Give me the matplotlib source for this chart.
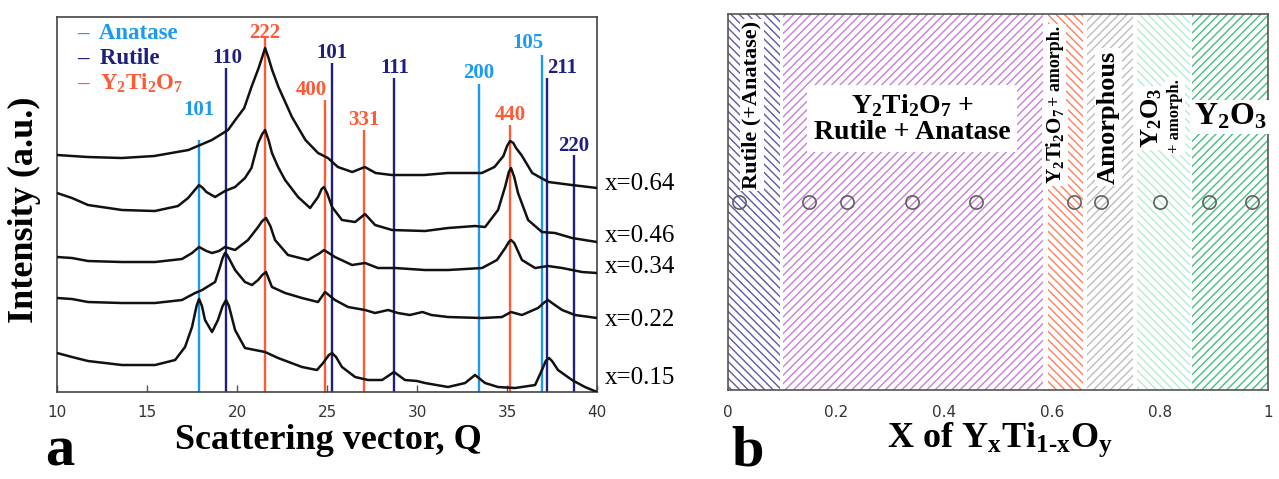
import matplotlib
matplotlib.use('Agg')
import matplotlib.pyplot as plt

plt.rcParams['mathtext.fontset'] = 'custom'
plt.rcParams['mathtext.rm'] = 'Liberation Serif:bold'
plt.rcParams['mathtext.bf'] = 'Liberation Serif:bold'
plt.rcParams['mathtext.it'] = 'Liberation Serif:bold'
plt.rcParams['mathtext.default'] = 'rm'
plt.rcParams['hatch.linewidth'] = 1.0

SERIF = 'Liberation Serif'

# ---------------- Panel a data ----------------
q_064 = [10.0, 11.7, 13.6, 15.4, 17.3, 18.6, 19.5, 19.9, 20.4, 20.8, 21.2, 21.4, 21.56, 21.75, 21.95, 22.3,
         23.05, 23.8, 24.5, 25.05, 25.6, 26.4, 27.1, 27.7, 28.6, 30.4, 31.7, 33.6, 34.3, 34.8,
         35.0, 35.17, 35.35, 35.5, 35.8, 36.4, 37.3, 38.6, 40.0]
i_064 = [237, 235, 234, 236, 242, 252, 262, 272, 284, 305, 324, 335, 344, 334, 322, 305,
         275, 252, 239, 234, 225, 220, 225, 219, 217, 217, 219, 219, 225, 236,
         246, 251, 249, 244, 237, 219, 210, 207, 204]

q_046 = [10.0, 10.83, 11.72, 13.61, 15.44, 16.72, 17.28, 17.7, 17.89, 18.1, 18.3, 18.78, 19.33, 19.89, 20.44,
         20.8, 21.17, 21.4, 21.56, 21.75, 21.94, 22.28, 22.67, 23.39, 24.06, 24.5, 24.7, 24.83, 25.0, 25.28,
         25.83, 26.56, 27.11, 27.67, 28.61, 30.44, 31.72, 33.22, 33.78, 34.5, 34.89, 35.1, 35.22, 35.4,
         35.61, 36.17, 36.94, 37.67, 38.61, 40.0]
i_046 = [199, 194, 187, 182, 181, 186, 194, 203, 207, 204, 200, 195, 201, 205, 214,
         224, 249, 258, 262, 252, 239, 225, 212, 195, 184, 195, 203, 205, 199, 185,
         172, 170, 178, 167, 162, 161, 164, 166, 165, 182, 205, 220, 224, 215,
         199, 172, 160, 159, 154, 150]

q_034 = [10.0, 10.83, 11.72, 13.61, 15.44, 16.94, 17.5, 17.89, 18.3, 18.61, 19.0, 19.33, 19.89,
         20.61, 21.17, 21.4, 21.61, 21.85, 22.11, 22.83, 23.94, 24.61, 24.83, 25.44, 26.39, 27.11, 27.83,
         28.78, 30.44, 31.72, 33.61, 34.44, 34.9, 35.1, 35.22, 35.4, 35.5, 35.83, 36.56, 37.28, 38.06,
         39.17, 40.0]
i_034 = [135, 134, 131, 130, 130, 133, 139, 145, 141, 139, 141, 145, 142,
         152, 165, 171, 174, 166, 152, 137, 132, 139, 142, 135, 127, 129, 124,
         124, 122, 122, 124, 132, 144, 150, 152, 149, 145, 132, 124, 126, 124,
         120, 119]

q_022 = [10.0, 10.83, 11.72, 13.61, 15.44, 16.94, 17.67, 18.06, 18.78, 19.05, 19.2, 19.33, 19.45, 19.6,
         19.89, 20.44, 20.83, 21.17, 21.4, 21.61, 21.94, 22.67, 23.61, 24.5, 24.89, 25.44, 26.17, 27.11,
         27.67, 28.39, 28.94, 29.6, 30.3, 30.8, 31.72, 33.61, 34.72, 35.22, 35.83, 36.72, 37.1, 37.28,
         37.5, 38.06, 38.78, 40.0]
i_022 = [94, 93, 90, 89, 89, 92, 99, 102, 110, 125, 134, 139, 137, 132,
         122, 110, 107, 112, 117, 120, 105, 99, 94, 90, 100, 92, 85, 82,
         79, 82, 79, 77, 80, 77, 75, 74, 75, 80, 77, 84, 90, 92,
         89, 82, 77, 74]

q_015 = [10.0, 10.83, 11.72, 13.61, 15.44, 16.56, 17.11, 17.5, 17.75, 17.89, 18.05, 18.22, 18.61,
         18.94, 19.2, 19.39, 19.55, 19.89, 20.44, 21.0, 21.56, 22.28, 23.61, 24.44, 24.78, 25.1, 25.28,
         25.5, 25.83, 26.56, 27.28, 28.06, 28.72, 29.33, 30.0, 30.44, 31.72, 32.67, 33.22, 33.78, 34.5,
         35.44, 36.56, 36.94, 37.15, 37.33, 37.5, 37.83, 38.61, 39.33, 40.0]
i_015 = [39, 35, 31, 27, 27, 32, 45, 65, 86, 93, 86, 72, 60,
         72, 86, 92, 86, 62, 44, 42, 40, 34, 25, 22, 29, 37, 39,
         35, 25, 15, 12, 12, 20, 12, 11, 9, 5, 9, 17, 9, 5,
         4, 7, 22, 31, 34, 31, 22, 12, 5, 0]

curves_q = [q_064, q_046, q_034, q_022, q_015]
curves_i = [i_064, i_046, i_034, i_022, i_015]
curve_labels = ['x=0.64', 'x=0.46', 'x=0.34', 'x=0.22', 'x=0.15']
curve_label_y = [208, 156, 125, 72, 14]

# reference lines: phase, hkl, position, top, label x, label y
ref_phase = ['A', 'R', 'Y', 'Y', 'R', 'Y', 'R', 'A', 'Y', 'A', 'R', 'R']
ref_hkl = ['101', '110', '222', '400', '101', '331', '111', '200', '440', '105', '211', '220']
ref_pos = [17.9, 19.4, 21.56, 24.9, 25.28, 27.06, 28.72, 33.44, 35.17, 36.94, 37.2, 38.7]
ref_top = [252, 324, 354, 292, 329, 262, 314, 308, 267, 337, 314, 237]
ref_lab_x = [17.9, 19.44, 21.56, 24.14, 25.28, 27.06, 28.78, 33.44, 35.17, 36.14, 38.08, 38.7]
ref_lab_y = [282, 334, 359, 302, 339, 272, 324, 319, 277, 349, 324, 246]

phase_colors = {'A': '#1a9af0', 'R': '#1f1f7e', 'Y': '#ff5a36'}
legend_names = ['–  Anatase', '–  Rutile', r'–  Y$_2$Ti$_2$O$_7$']
legend_keys = ['A', 'R', 'Y']

# ---------------- Panel b data ----------------
region_x0 = [0.0, 0.102, 0.593, 0.665, 0.757, 0.859]
region_x1 = [0.096, 0.583, 0.657, 0.750, 0.856, 1.0]
region_colors = ['#5a5aa8', '#c67fd8', '#ff7f5a', '#bdbdbd', '#b8ecd0', '#45c07f']
region_hatch = ['\\\\\\\\', '////', '\\\\\\\\', '////', '\\\\\\\\', '////']

sample_x = [0.02, 0.15, 0.22, 0.34, 0.46, 0.64, 0.69, 0.80, 0.89, 0.97]
sample_y = [0.5] * len(sample_x)

fig = plt.figure(figsize=(12.79, 4.79), dpi=100)

# ================= Panel a =================
ax = fig.add_axes([0.0446, 0.1816, 0.4222, 0.7829])
ax.set_xlim(10, 40)
ax.set_ylim(0, 375)
ax.set_xticks([10, 15, 20, 25, 30, 35, 40])
ax.set_yticks([])
ax.tick_params(axis='x', direction='in', length=5, width=1, pad=9,
               labelsize=11, labelcolor='#333333', color='#555555')
for s in ax.spines.values():
    s.set_color('#444444')
    s.set_linewidth(1.2)

for ph, pos, top in zip(ref_phase, ref_pos, ref_top):
    ax.vlines(pos, 0, top, colors=phase_colors[ph], lw=1.7, zorder=1)
for ph, hkl, lx, ly in zip(ref_phase, ref_hkl, ref_lab_x, ref_lab_y):
    ax.text(lx, ly, hkl, color=phase_colors[ph], ha='center', va='center',
            fontsize=15, family=SERIF, fontweight='bold')

for qq, ii in zip(curves_q, curves_i):
    ax.plot(qq, ii, color='#111111', lw=1.8, zorder=3, solid_joinstyle='round')

for lab, ly in zip(curve_labels, curve_label_y):
    ax.text(40.45, ly, lab, ha='left', va='center', fontsize=18, family=SERIF,
            clip_on=False)

for k, (name, key) in enumerate(zip(legend_names, legend_keys)):
    ax.text(11.1, 359 - 25 * k, name, color=phase_colors[key], ha='left', va='center',
            fontsize=16.5, family=SERIF, fontweight='bold')

fig.text(0.0195, 0.5616, 'Intensity (a.u.)', rotation=90, ha='center', va='center',
         fontsize=26, family=SERIF, fontweight='bold')
fig.text(0.2565, 0.0814, 'Scattering vector, Q', ha='center', va='center',
         fontsize=26, family=SERIF, fontweight='bold')
fig.text(0.0469, 0.003, 'a', ha='center', va='bottom',
         fontsize=42, family=SERIF, fontweight='bold')

# ================= Panel b =================
axb = fig.add_axes([0.5692, 0.1858, 0.4222, 0.785])
axb.set_xlim(0, 1)
axb.set_ylim(0, 1)
axb.set_xticks([0, 0.2, 0.4, 0.6, 0.8, 1.0])
axb.set_xticklabels(['0', '0.2', '0.4', '0.6', '0.8', '1'])
axb.set_yticks([])
axb.tick_params(axis='x', length=0, pad=11, labelsize=11, labelcolor='#333333')
for s in axb.spines.values():
    s.set_color('#555555')
    s.set_linewidth(1.2)

for x0, x1, c, h in zip(region_x0, region_x1, region_colors, region_hatch):
    axb.axvspan(x0, x1, facecolor='none', edgecolor=c, hatch=h, lw=0, zorder=0)

axb.plot(sample_x, sample_y, 'o', mfc='none', mec='#606060', ms=9.5, mew=1.2, zorder=3)

wb = dict(facecolor='white', edgecolor='none', pad=1.5)
axb.text(0.044, 0.758, 'Rutile (+Anatase)', rotation=90, ha='center', va='center',
         fontsize=16, family=SERIF, fontweight='bold', bbox=wb)
axb.text(0.341, 0.723, 'Y$_2$Ti$_2$O$_7$ +\nRutile + Anatase', ha='center', va='center',
         fontsize=20, family=SERIF, fontweight='bold', linespacing=1.05,
         bbox=dict(facecolor='white', edgecolor='none', pad=5))
axb.text(0.606, 0.548, 'Y$_2$Ti$_2$O$_7$', rotation=90, ha='center', va='bottom',
         fontsize=15, family=SERIF, fontweight='bold', bbox=wb)
axb.text(0.606, 0.755, '+ amorph.', rotation=90, ha='center', va='bottom',
         fontsize=13, family=SERIF, fontweight='bold', bbox=wb)
axb.text(0.704, 0.726, 'Amorphous', rotation=90, ha='center', va='center',
         fontsize=19, family=SERIF, fontweight='bold', bbox=wb)
axb.text(0.785, 0.723, 'Y$_2$O$_3$', rotation=90, ha='center', va='center',
         fontsize=19, family=SERIF, fontweight='bold', bbox=wb)
axb.text(0.828, 0.729, '+ amorph.', rotation=90, ha='center', va='center',
         fontsize=12, family=SERIF, fontweight='bold', bbox=wb)
axb.text(0.931, 0.726, 'Y$_2$O$_3$', ha='center', va='center',
         fontsize=23, family=SERIF, fontweight='bold', bbox=wb)

fig.text(1000 / 1279, 0.0814, r'X of Y$_x$Ti$_{1\text{-}x}$O$_y$', ha='center', va='center',
         fontsize=26, family=SERIF, fontweight='bold')
fig.text(748 / 1279, 0.003, 'b', ha='center', va='bottom',
         fontsize=42, family=SERIF, fontweight='bold')

fig.savefig('out.png', dpi=100)
